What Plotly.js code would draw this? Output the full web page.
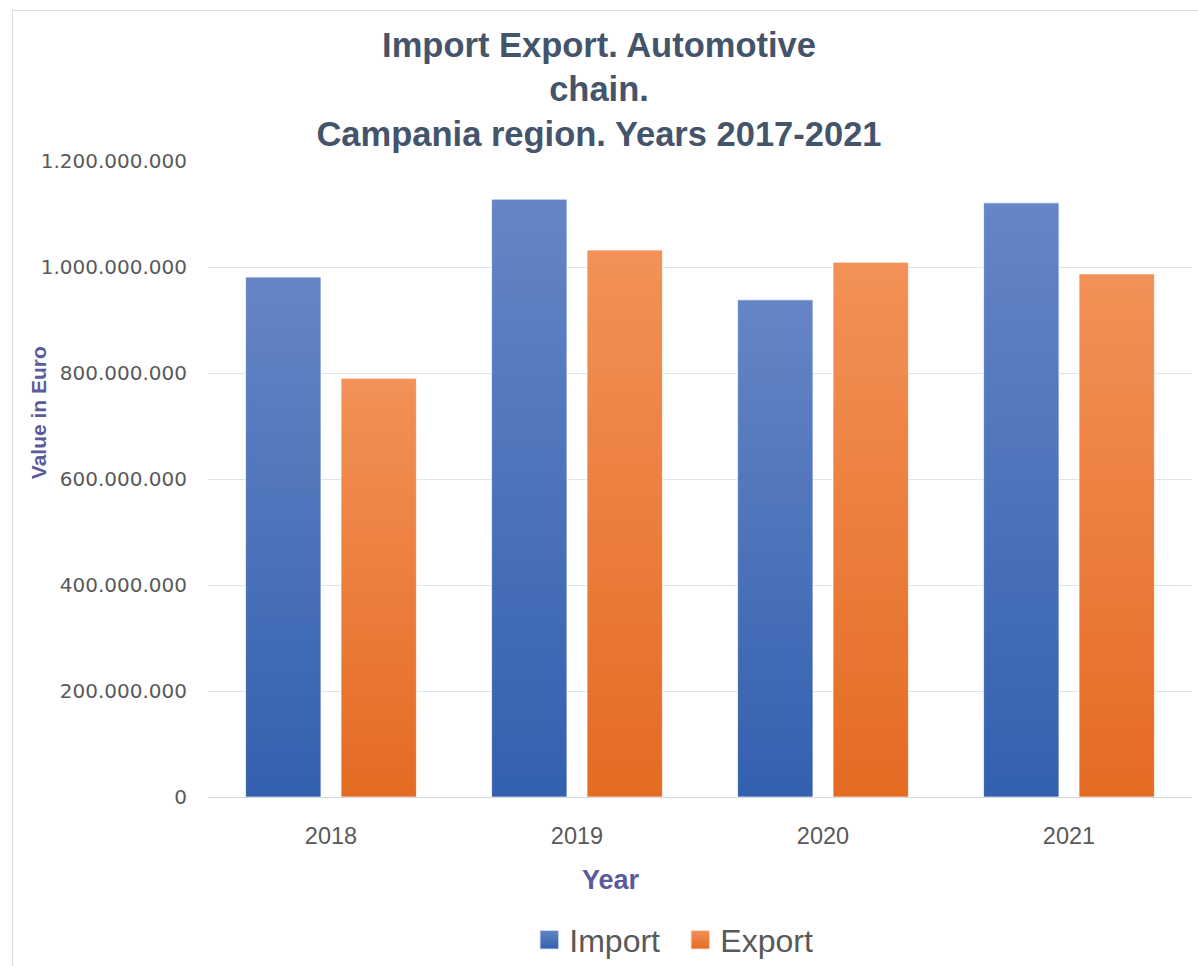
<!DOCTYPE html>
<html><head><meta charset="utf-8">
<script src="https://cdn.plot.ly/plotly-3.0.1.min.js"></script>
<style>
html,body{margin:0;padding:0;background:#fff;}
#wrap{position:relative;width:1198px;height:966px;overflow:hidden;}
#chart{width:1198px;height:966px;}
#frame{position:absolute;left:12px;top:10px;width:1200px;height:980px;border:1px solid #d9dee5;pointer-events:none;}
</style></head><body>
<div id="wrap"><div id="chart"></div><div id="frame"></div></div>
<script>
const years = ['2018', '2019', '2020', '2021'];
const importValues = [981000000, 1128000000, 938000000, 1121000000];
const exportValues = [790000000, 1032000000, 1009000000, 987000000];
const seriesNames = ['Import', 'Export'];
const titleText = 'Import Export. Automotive<br>chain.<br>Campania region. Years 2017-2021';
const xTitleText = 'Year';
const yTitleText = 'Value in Euro';

const sans = '"Liberation Sans", Arial, sans-serif';
const axisTitleColor = '#5a5b9c';

const data = [
  {type: 'bar', name: seriesNames[0], x: years, y: importValues,
   marker: {color: '#4a6fba', line: {color: 'rgba(255,255,255,0.7)', width: 1}}},
  {type: 'bar', name: seriesNames[1], x: years, y: exportValues,
   marker: {color: '#ee7d34', line: {color: 'rgba(255,255,255,0.7)', width: 1}}}
];

const layout = {
  width: 1198, height: 966,
  margin: {l: 208, r: 6, t: 161, b: 169, autoexpand: false},
  paper_bgcolor: '#ffffff', plot_bgcolor: '#ffffff',
  separators: ',.',
  barmode: 'group', bargap: 0.224, bargroupgap: 0.21,
  title: {text: titleText, x: 0.5, xref: 'container', xanchor: 'center',
          y: 0.9415, yref: 'container', yanchor: 'top',
          font: {family: sans, size: 34.5, color: '#44546a', weight: 700}},
  xaxis: {type: 'category', showgrid: false, zeroline: false, showline: false, automargin: false,
          ticks: '', ticklabelstandoff: 22,
          tickfont: {family: sans, size: 23.5, color: '#595959'}},
  yaxis: {range: [0, 1200000000], dtick: 200000000, tickformat: ',d', automargin: false,
          showgrid: true, gridcolor: '#dfe3ea', gridwidth: 1,
          zeroline: true, zerolinecolor: '#d3d8df', zerolinewidth: 1,
          showline: false, ticks: '', ticklabelstandoff: 20,
          tickfont: {family: '"DejaVu Sans", Verdana, sans-serif', size: 20, color: '#595959'}},
  showlegend: true,
  legend: {orientation: 'h', x: 0.48, xanchor: 'center', xref: 'paper',
           y: 0.027, yref: 'container', yanchor: 'middle',
           font: {family: sans, size: 32, color: '#595959'}, itemwidth: 30,
           entrywidth: 106, entrywidthmode: 'pixels'},
  annotations: [
    {text: '<b>' + yTitleText + '</b>', xref: 'paper', yref: 'paper',
     x: -0.1728, y: 0.605, xanchor: 'center', yanchor: 'middle', showarrow: false,
     textangle: -90, font: {family: sans, size: 21, color: axisTitleColor}},
    {text: '<b>' + xTitleText + '</b>', xref: 'paper', yref: 'paper',
     x: 0.4096, y: -0.131, xanchor: 'center', yanchor: 'middle', showarrow: false,
     font: {family: sans, size: 27, color: axisTitleColor}}
  ]
};

Plotly.newPlot('chart', data, layout, {staticPlot: true, displayModeBar: false}).then(function (gd) {
  const ns = 'http://www.w3.org/2000/svg';
  const svg = gd.querySelector('svg.main-svg');
  let defs = svg.querySelector('defs');
  if (!defs) { defs = document.createElementNS(ns, 'defs'); svg.insertBefore(defs, svg.firstChild); }
  function addGrad(id, top, bottom) {
    const g = document.createElementNS(ns, 'linearGradient');
    g.setAttribute('id', id);
    g.setAttribute('x1', '0'); g.setAttribute('y1', '0');
    g.setAttribute('x2', '0'); g.setAttribute('y2', '1');
    [[0, top], [1, bottom]].forEach(function (s) {
      const st = document.createElementNS(ns, 'stop');
      st.setAttribute('offset', String(s[0]));
      st.setAttribute('stop-color', s[1]);
      g.appendChild(st);
    });
    defs.appendChild(g);
  }
  addGrad('gradImport', '#6585c6', '#3360ae');
  addGrad('gradExport', '#f39158', '#e46b22');
  const ids = ['gradImport', 'gradExport'];
  gd.querySelectorAll('.barlayer .trace').forEach(function (t, i) {
    t.querySelectorAll('path').forEach(function (p) { p.style.fill = 'url(#' + ids[i] + ')'; });
  });
  gd.querySelectorAll('.legend .traces').forEach(function (t, i) {
    t.querySelectorAll('.legendpoints path').forEach(function (p) {
      const tr = p.getAttribute('transform') || '';
      p.setAttribute('transform', tr + ' scale(1.6)');
      p.style.fill = 'url(#' + ids[i] + ')';
    });
  });
});
</script>
</body></html>
